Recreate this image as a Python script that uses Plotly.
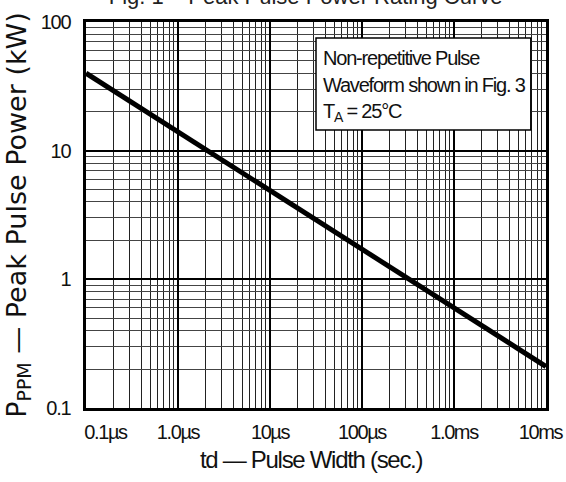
import plotly.graph_objects as go

# Data
pulse_width_s = [1e-7, 1e-6, 1e-5, 1e-4, 1e-3, 1e-2]
peak_power_kw = [40, 14, 4.8, 1.7, 0.6, 0.21]

x_tick_vals = [1e-7, 1e-6, 1e-5, 1e-4, 1e-3, 1e-2]
x_tick_labels = ["0.1µs", "1.0µs", "10µs", "100µs", "1.0ms", "10ms"]
y_tick_vals = [0.1, 1, 10, 100]
y_tick_labels = ["0.1", "1", "10", "100"]

box_lines = ["Non-repetitive Pulse", "Waveform shown in Fig. 3", "T<sub>A</sub> = 25°C"]

x_minor = [m * 10 ** e for e in range(-7, -2) for m in range(2, 10)]
y_minor = [m * 10 ** e for e in range(-1, 2) for m in range(2, 10)]

SANS = "Liberation Sans, Arial, sans-serif"
INK = "#111111"


def tight(t, ls):
    return f"<span style='letter-spacing:{ls}px'>{t}</span>"


x_tick_text = [tight(t, -1.4) for t in x_tick_labels]
x_tick_text[0] = "\u00a0" * 7 + x_tick_text[0]
x_tick_text[-1] = x_tick_text[-1] + "\u00a0" * 2
y_tick_text = [tight(t, -1.3) for t in y_tick_labels]

fig = go.Figure()
fig.add_trace(go.Scatter(
    x=pulse_width_s, y=peak_power_kw, mode="lines",
    line=dict(color="black", width=5), showlegend=False,
))

# plot area spans 22..408 px vertically; box text line centres from reference
line_y_px = [58, 85, 113]
box_annotations = [
    dict(xref="x domain", yref="y domain", x=0.51, y=1 - (py - 22) / 386,
         xanchor="left", yanchor="middle", align="left", showarrow=False,
         text=tight(t, -1.2),
         font=dict(family=SANS, size=20, color=INK))
    for t, py in zip(box_lines, line_y_px)
]

fig.update_layout(
    width=566, height=482,
    margin=dict(l=86, r=20, t=22, b=74),
    paper_bgcolor="white", plot_bgcolor="white",
    font=dict(family=SANS, color=INK, size=18),
    title=dict(
        text="Fig. 1 – Peak Pulse Power Rating Curve",
        font=dict(family=SANS, size=22, color="#222"),
        x=0.54, xanchor="center", y=1 - 4 / 482, yanchor="bottom",
    ),
    xaxis=dict(
        type="log", range=[-7, -2], automargin=False,
        tickmode="array", tickvals=x_tick_vals, ticktext=x_tick_text,
        ticks="", ticklabelstandoff=4, ticklabeloverflow="allow",
        showgrid=True, gridcolor="black", gridwidth=1.5,
        minor=dict(tickmode="array", tickvals=x_minor, showgrid=True,
                   gridcolor="#222222", gridwidth=1.2, ticks=""),
        showline=True, linecolor="black", linewidth=2.5, mirror=True,
        zeroline=False,
        tickfont=dict(family=SANS, size=20, color=INK),
    ),
    yaxis=dict(
        type="log", range=[-1, 2], automargin=False,
        tickmode="array", tickvals=y_tick_vals, ticktext=y_tick_text,
        ticks="", ticklabelstandoff=9,
        showgrid=True, gridcolor="black", gridwidth=1.5,
        minor=dict(tickmode="array", tickvals=y_minor, showgrid=True,
                   gridcolor="#444444", gridwidth=1.3, ticks=""),
        showline=True, linecolor="black", linewidth=2.5, mirror=True,
        zeroline=False,
        title=dict(text="P<sub>PPM</sub> — Peak Pulse Power (kW)",
                   font=dict(family="DejaVu Sans, Liberation Sans", size=27, color=INK),
                   standoff=7),
        tickfont=dict(family=SANS, size=20, color=INK),
    ),
    shapes=[dict(
        type="rect", xref="x domain", yref="y domain",
        x0=0.50, x1=0.967, y0=0.72, y1=0.9585,
        fillcolor="white", line=dict(color="black", width=1.5), layer="above",
    )],
    annotations=box_annotations + [dict(
        xref="paper", yref="paper", x=0.49, y=-(459 - 408) / 386,
        xanchor="center", yanchor="middle", showarrow=False,
        text=tight("td — Pulse Width (sec.)", -1.3),
        font=dict(family=SANS, size=24, color=INK),
    )],
)

fig.write_html("out.html", config={"displayModeBar": False},
               post_script="document.body.style.margin='0';")
